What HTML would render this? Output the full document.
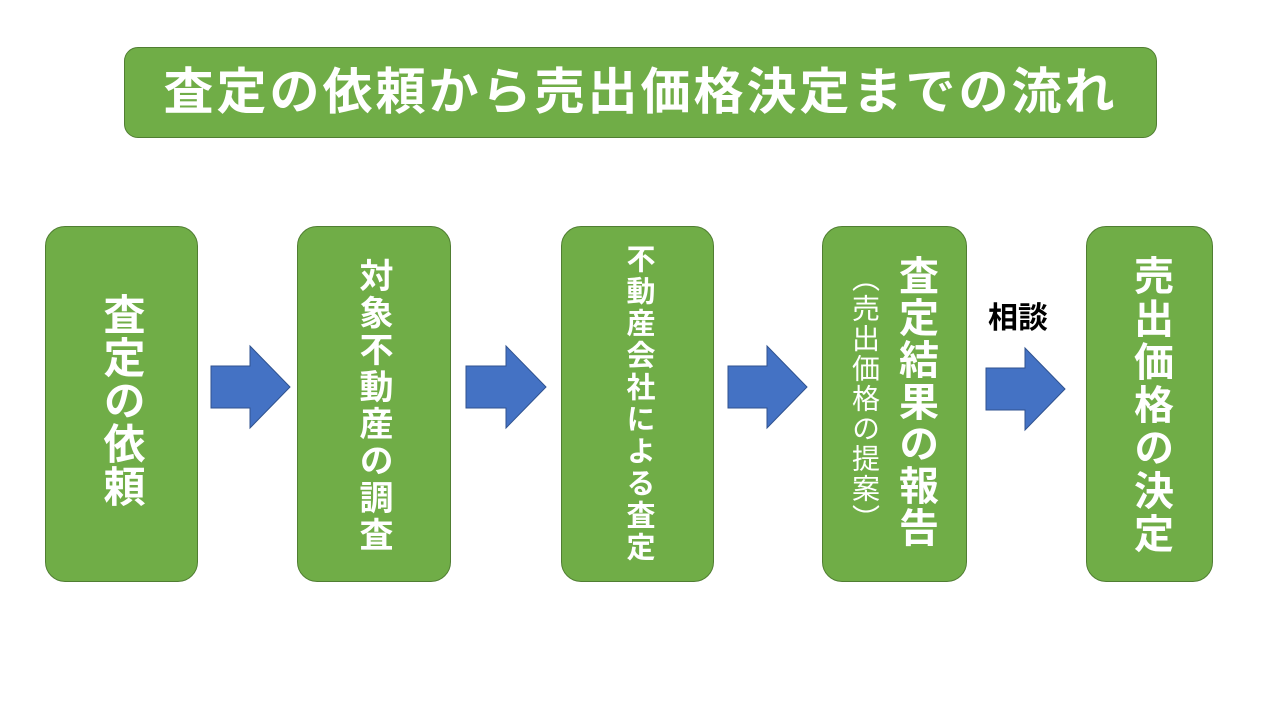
<!DOCTYPE html>
<html><head><meta charset="utf-8"><style>
body{margin:0;width:1280px;height:720px;background:#fff;position:relative;overflow:hidden;font-family:"Liberation Sans","Noto Sans CJK JP",sans-serif}
.b{position:absolute;background:#70AD47;border:1px solid #507E32;border-radius:20px;box-sizing:border-box}
.v{position:absolute;writing-mode:vertical-rl;color:#fff;font-weight:bold;white-space:nowrap;line-height:1}
svg{position:absolute;left:0;top:0}
</style></head><body>
<div class="b" style="left:124px;top:47px;width:1033px;height:91px;border-radius:14px"></div>
<div style="position:absolute;left:124px;top:47px;width:1033px;height:91px;line-height:91px;text-align:center;color:#fff;font-weight:bold;font-size:50px;letter-spacing:3px">査定の依頼から売出価格決定までの流れ</div>

<div class="b" style="left:45px;top:226px;width:153px;height:356px"></div>
<div class="v" style="left:100px;top:293px;font-size:42px;letter-spacing:1px">査定の依頼</div>

<div class="b" style="left:297px;top:226px;width:154px;height:356px"></div>
<div class="v" style="left:356px;top:258px;font-size:34px;letter-spacing:3px">対象不動産の調査</div>

<div class="b" style="left:561px;top:226px;width:153px;height:356px"></div>
<div class="v" style="left:623px;top:244px;font-size:29px;letter-spacing:3px">不動産会社による査定</div>

<div class="b" style="left:822px;top:226px;width:145px;height:356px"></div>
<div class="v" style="left:895px;top:255px;font-size:40px;letter-spacing:2px">査定結果の報告</div>
<div class="v" style="left:850px;top:264px;font-size:28px;font-weight:normal;letter-spacing:2px">（売出価格の提案）</div>

<div class="b" style="left:1086px;top:226px;width:127px;height:356px"></div>
<div class="v" style="left:1130px;top:255px;font-size:40px;letter-spacing:3px">売出価格の決定</div>

<div style="position:absolute;left:988px;top:293px;font-size:30px;font-weight:bold;color:#000">相談</div>

<svg width="1280" height="720">
<g fill="#4472C4" stroke="#2F528F" stroke-width="1">
<polygon points="211,366 250,366 250,346 290,387 250,428 250,408 211,408"/>
<polygon points="466,366 506,366 506,346 546,387 506,428 506,408 466,408"/>
<polygon points="728,366 767,366 767,346 807,387 767,428 767,408 728,408"/>
<polygon points="986,368 1025,368 1025,348 1065,389 1025,430 1025,410 986,410"/>
</g></svg>
</body></html>
